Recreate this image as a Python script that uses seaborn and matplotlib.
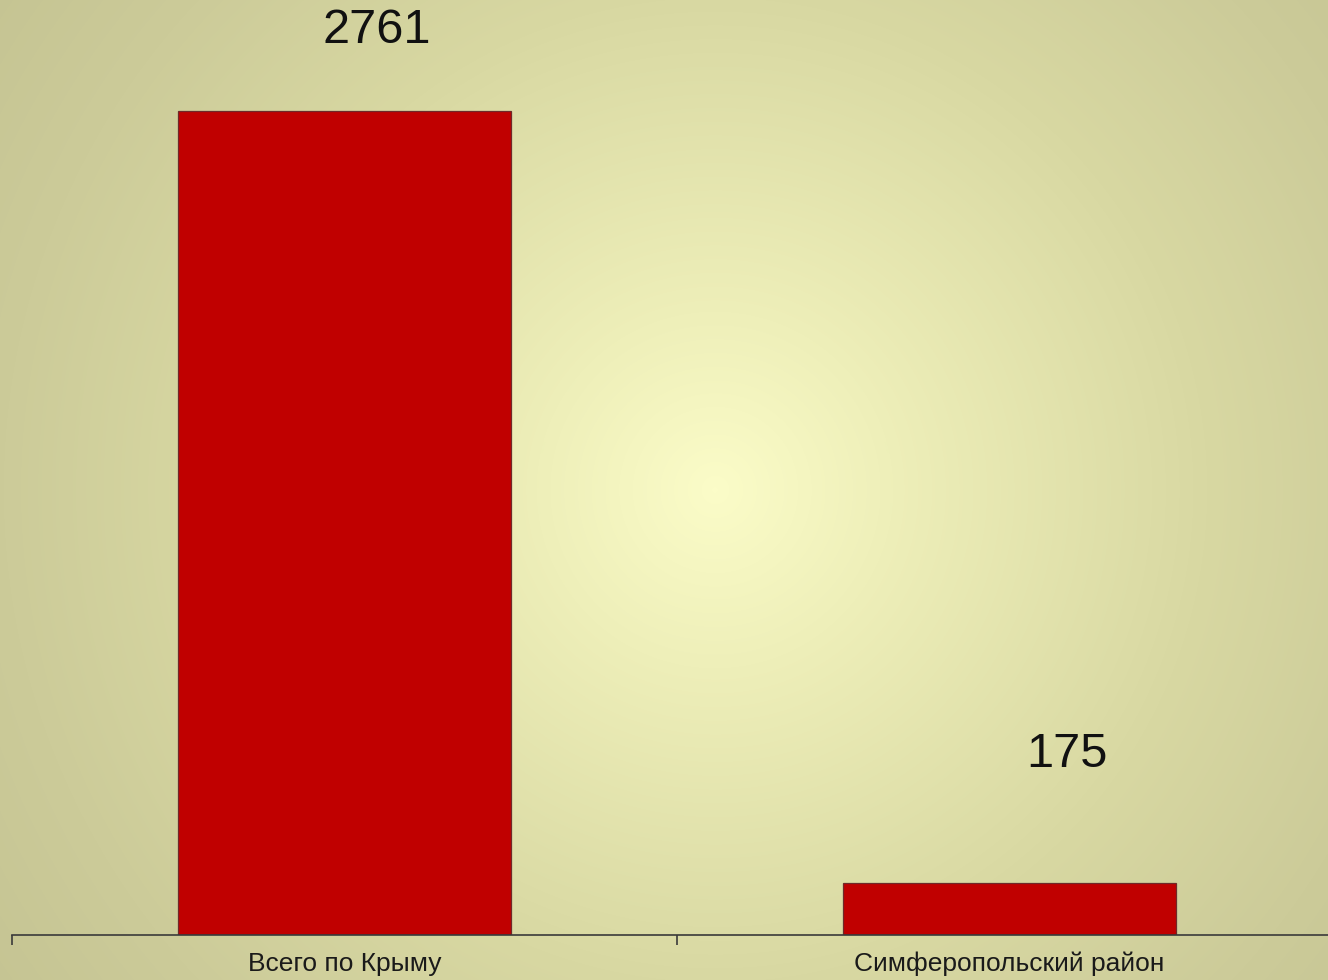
"""
plot.py - two red bars on a radial yellow gradient (Crimea vs Simferopol district).
"""

import matplotlib
matplotlib.use("Agg")

import numpy as np
import pandas as pd
import matplotlib.pyplot as plt
import seaborn as sns
from matplotlib.colors import LinearSegmentedColormap
from matplotlib.ticker import FixedLocator

# data
categories = ["Всего по Крыму", "Симферопольский район"]
values = [2761, 175]

# layout: value label offsets (points) from the bar top centre
label_offsets = [(23, 49), (41, 83)]

W, H, DPI = 1328, 980, 100

sns.set_theme(style="white")
plt.rcParams["font.family"] = ["Liberation Sans", "DejaVu Sans"]

fig = plt.figure(figsize=(W / DPI, H / DPI), dpi=DPI)

# radial background gradient, light in the middle, olive at the corners
bg = fig.add_axes([0, 0, 1, 1], zorder=0)
yy, xx = np.mgrid[0:H, 0:W]
dist = np.hypot(xx - 715, yy - 490) / 880.0
cmap = LinearSegmentedColormap.from_list(
    "bg", [(0.0, "#fbfcc8"), (0.2, "#eeefb9"), (0.56, "#d8d8a2"),
           (0.81, "#cccb99"), (1.0, "#c5c493")])
bg.imshow(np.clip(dist, 0, 1), cmap=cmap, vmin=0, vmax=1, aspect="auto",
          interpolation="bilinear")
bg.axis("off")

# main axes: x spans 12px .. 1342px (right edge a bit past the figure)
ax = fig.add_axes([12 / W, 45 / H, 1330 / W, 935 / H], zorder=1)
ax.patch.set_alpha(0)

df = pd.DataFrame({"cat": categories, "val": values})
sns.barplot(data=df, x="cat", y="val", color="#c00000", saturation=1,
            width=0.5, edgecolor="#6e2a2a", linewidth=0.9, ax=ax)

ax.set_xlim(-0.5, len(categories) - 0.5)
ax.set_ylim(0, values[0] * 935 / 824)
ax.set_xlabel("")
ax.set_ylabel("")
ax.set_yticks([])

for side in ["top", "right", "left"]:
    ax.spines[side].set_visible(False)
ax.spines["bottom"].set_color("#3a3a3a")
ax.spines["bottom"].set_linewidth(1.2)

# category labels at bar centres, tick marks at category boundaries
ax.tick_params(axis="x", which="major", length=0, pad=12,
               labelsize=19, labelcolor="#1a1a1a")
ax.xaxis.set_minor_locator(FixedLocator(np.arange(len(categories) + 1) - 0.5))
ax.tick_params(axis="x", which="minor", length=7.5, width=1.2,
               color="#3a3a3a", direction="out", bottom=True)

for i, (v, off) in enumerate(zip(values, label_offsets)):
    ax.annotate(str(v), xy=(i, v), xytext=off, textcoords="offset points",
                ha="center", va="baseline", fontsize=35, color="#111111",
                annotation_clip=False)

fig.savefig("out.png", dpi=DPI)
plt.close(fig)
